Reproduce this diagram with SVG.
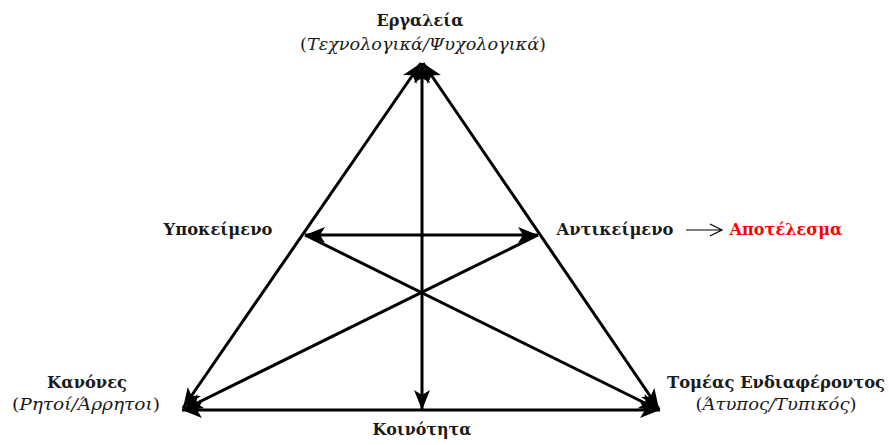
<svg xmlns="http://www.w3.org/2000/svg" width="889" height="445" viewBox="0 0 889 445">
<style>
.lbl{font-family:"DejaVu Serif","Liberation Serif",serif;font-weight:bold;font-size:16px;fill:#1a1a1a;text-anchor:middle}
.sub{font-family:"DejaVu Serif","Liberation Serif",serif;font-size:16px;fill:#1a1a1a;text-anchor:middle}
.it{font-style:italic}
.red{fill:#ff0000}
.edge{stroke:#000;stroke-width:3;fill:none}
</style>
<defs>
<marker id="ah" markerUnits="userSpaceOnUse" markerWidth="22" markerHeight="18" refX="20" refY="8" orient="auto-start-reverse" viewBox="0 0 22 16">
<path d="M0,0 L20,8 L0,16 L5,8 z" fill="#000"/>
</marker>
</defs>
<g id="connectors">
<line class="edge" x1="183" y1="408" x2="421" y2="63" marker-start="url(#ah)" marker-end="url(#ah)"/>
<line class="edge" x1="659" y1="409" x2="423" y2="63" marker-start="url(#ah)" marker-end="url(#ah)"/>
<line class="edge" x1="422" y1="63" x2="422" y2="410" marker-start="url(#ah)" marker-end="url(#ah)"/>
<line class="edge" x1="182" y1="410" x2="660" y2="410" marker-start="url(#ah)" marker-end="url(#ah)"/>
<line class="edge" x1="305" y1="235" x2="538" y2="235" marker-start="url(#ah)" marker-end="url(#ah)"/>
<line class="edge" x1="305" y1="235" x2="659" y2="410" marker-end="url(#ah)"/>
<line class="edge" x1="538" y1="235" x2="183" y2="410" marker-end="url(#ah)"/>
<path d="M686,230 H722 M710,224 L722,230 L710,236" stroke="#000" stroke-width="1.2" fill="none"/>
</g>
<g id="tools">
<text class="lbl" x="420" y="26" textLength="87" lengthAdjust="spacingAndGlyphs">Εργαλεία</text>
<text class="sub" x="423" y="50" textLength="246" lengthAdjust="spacingAndGlyphs">(<tspan class="it">Τεχνολογικά/Ψυχολογικά</tspan>)</text>
</g>
<g id="subject">
<text class="lbl" x="218" y="235" textLength="109" lengthAdjust="spacingAndGlyphs">Υποκείμενο</text>
</g>
<g id="object">
<text class="lbl" x="615" y="235" textLength="117" lengthAdjust="spacingAndGlyphs">Αντικείμενο</text>
</g>
<g id="outcome">
<text class="lbl red" x="786" y="235" textLength="113" lengthAdjust="spacingAndGlyphs">Αποτέλεσμα</text>
</g>
<g id="rules">
<text class="lbl" x="87" y="388" textLength="80" lengthAdjust="spacingAndGlyphs">Κανόνες</text>
<text class="sub" x="86" y="410" textLength="148" lengthAdjust="spacingAndGlyphs">(<tspan class="it">Ρητοί/Άρρητοι</tspan>)</text>
</g>
<g id="division">
<text class="lbl" x="776" y="388" textLength="218" lengthAdjust="spacingAndGlyphs">Τομέας Ενδιαφέροντος</text>
<text class="sub" x="776" y="410" textLength="161" lengthAdjust="spacingAndGlyphs">(<tspan class="it">Άτυπος/Τυπικός</tspan>)</text>
</g>
<g id="community">
<text class="lbl" x="422" y="435" textLength="99" lengthAdjust="spacingAndGlyphs">Κοινότητα</text>
</g>
</svg>
